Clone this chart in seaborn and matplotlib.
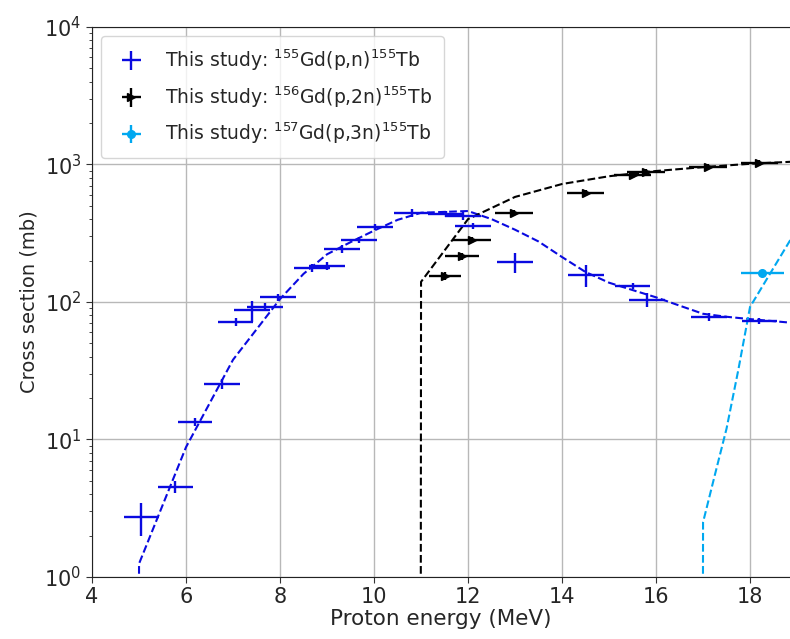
import matplotlib
matplotlib.use('Agg')
import matplotlib.pyplot as plt
import seaborn as sns
import pandas as pd
import numpy as np

# data points, 155Gd(p,n)155Tb
pn_x = [5.05, 5.77, 6.19, 6.77, 7.06, 7.40, 7.68, 7.96, 8.68, 9.00, 9.32, 9.68,
        10.02, 10.80, 11.53, 11.90, 12.10, 13.00, 14.51, 15.50, 15.80, 17.13, 18.20]
pn_y = [2.73, 4.5, 13.4, 25.3, 71.6, 87, 92, 108, 177, 183, 243, 282,
        351, 444, 437, 422, 357, 195, 157, 131, 103.5, 78, 73]
pn_yerr = [0.75, 0.45, 0.9, 2, 5, 15, 6, 7, 12, 12, 16, 15,
           20, 30, 25, 30, 20, 33, 28, 7, 12, 5, 4]
pn_xerr = [0.38, 0.37, 0.37, 0.38, 0.37, 0.38, 0.38, 0.38, 0.38, 0.38, 0.38, 0.38,
           0.38, 0.38, 0.38, 0.38, 0.38, 0.38, 0.39, 0.38, 0.38, 0.38, 0.38]

# 156Gd(p,2n)155Tb
p2n_x = [11.51, 11.87, 12.08, 12.98, 14.50, 15.50, 15.79, 17.10, 18.20]
p2n_y = [155, 215, 282, 444, 620, 835, 880, 960, 1025]
p2n_yerr = [10, 12, 15, 25, 35, 45, 50, 50, 50]
p2n_xerr = [0.35, 0.37, 0.4, 0.4, 0.4, 0.4, 0.4, 0.4, 0.4]

# 157Gd(p,3n)155Tb
p3n_x = [18.26]
p3n_y = [163]
p3n_yerr = [5]
p3n_xerr = [0.46]

# model curves (dashed)
pn_curve_x = [4.99, 5.0, 6, 7, 8, 8.5, 9, 9.5, 10, 10.5, 11, 12, 12.5, 13, 13.5,
              14, 14.5, 15, 15.5, 16, 16.5, 17, 17.5, 18, 19]
pn_curve_y = [0.01, 1.25, 8.8, 38, 105, 160, 222, 272, 330, 395, 445, 458, 400, 335, 275,
              212, 165, 138, 122, 108, 94, 82, 78, 75, 70]
p2n_curve_x = [10.99, 11.0, 12, 13, 14, 15, 16, 17, 18, 19]
p2n_curve_y = [0.01, 140, 400, 580, 720, 820, 895, 955, 1010, 1050]
p3n_curve_x = [16.99, 17.0, 17.25, 17.5, 17.75, 18, 19]
p3n_curve_y = [0.01, 2.5, 5.5, 12, 32, 92, 340]

c_pn = '#0a0ae0'
c_p2n = 'black'
c_p3n = '#00a8f0'

sns.set_style('ticks')
plt.rcParams['font.family'] = ['DejaVu Sans']

fig = plt.figure(figsize=(7.9, 6.39), dpi=100)
ax = fig.add_axes([0.1165, 0.097, 0.8835, 0.861])

curves = [(pn_curve_x, pn_curve_y, c_pn), (p2n_curve_x, p2n_curve_y, c_p2n),
          (p3n_curve_x, p3n_curve_y, c_p3n)]
for cx, cy, col in curves:
    df = pd.DataFrame({'E': cx, 'xs': cy})
    sns.lineplot(data=df, x='E', y='xs', ax=ax, color=col, linestyle='--', lw=1.5,
                 estimator=None, sort=False)

ax.errorbar(pn_x, pn_y, xerr=pn_xerr, yerr=pn_yerr, fmt='none', ecolor=c_pn,
            elinewidth=1.7, label=r'This study: $^{155}$Gd(p,n)$^{155}$Tb')
ax.errorbar(p2n_x, p2n_y, xerr=p2n_xerr, yerr=p2n_yerr, fmt='>', color=c_p2n,
            ms=6, elinewidth=1.7, label=r'This study: $^{156}$Gd(p,2n)$^{155}$Tb')
ax.errorbar(p3n_x, p3n_y, xerr=p3n_xerr, yerr=p3n_yerr, fmt='o', color=c_p3n,
            ms=5.5, elinewidth=1.7, label=r'This study: $^{157}$Gd(p,3n)$^{155}$Tb')

ax.set_yscale('log')
ax.set_xlim(4, 18.85)
ax.set_ylim(1, 1e4)
ax.set_xticks([4, 6, 8, 10, 12, 14, 16, 18])
ax.grid(True, which='major', color='#b8b8b8', lw=1)
ax.tick_params(axis='both', which='major', labelsize=15, length=4, color='#333333')
ax.tick_params(axis='y', which='minor', length=2)
for s in ['top', 'left', 'bottom']:
    ax.spines[s].set_color('#222222')
ax.spines['right'].set_visible(False)

ax.set_xlabel('Proton energy (MeV)', fontsize=15.5, labelpad=1)
ax.set_ylabel('Cross section (mb)', fontsize=14)
ax.legend(loc='upper left', fontsize=13.5, frameon=True, framealpha=0.8,
          edgecolor='#cccccc', borderpad=0.6, labelspacing=0.6)

fig.savefig('out.png', dpi=100)
plt.close(fig)
